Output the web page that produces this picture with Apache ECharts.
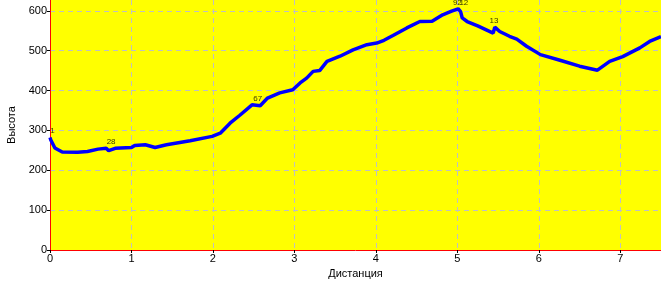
<!DOCTYPE html>
<html>
<head>
<meta charset="utf-8">
<script src="https://cdn.jsdelivr.net/npm/echarts@6/dist/echarts.min.js"></script>
<style>html,body{margin:0;padding:0;background:#fff;}#c{width:661px;height:281px;}</style>
</head>
<body>
<div id="c"></div>
<script>
var distances = [0, 0.01, 0.06, 0.15, 0.34, 0.46, 0.59, 0.69, 0.72, 0.8, 1.0, 1.04, 1.17, 1.29, 1.43, 1.72, 1.99, 2.09, 2.21, 2.33, 2.48, 2.58, 2.67, 2.82, 2.98, 3.07, 3.15, 3.23, 3.31, 3.40, 3.56, 3.72, 3.89, 4.01, 4.10, 4.21, 4.38, 4.54, 4.69, 4.82, 4.93, 5.01, 5.04, 5.06, 5.12, 5.25, 5.44, 5.46, 5.52, 5.64, 5.73, 5.85, 6.02, 6.26, 6.50, 6.72, 6.87, 7.03, 7.24, 7.36, 7.5];
var heights = [282, 276, 256, 246, 245, 247, 253, 255, 249, 255, 257, 262, 264, 257, 264, 274, 285, 293, 318, 338, 364, 362, 381, 394, 402, 419, 431, 448, 450, 473, 486, 502, 515, 519, 526, 538, 557, 573, 574, 590, 599, 605, 598, 582, 573, 562, 544, 559, 548, 536, 529, 511, 490, 476, 461, 451, 473, 485, 507, 523, 535];
var pointNames = ['1', '28', '67', '92', '12', '13'];
var pointDist = [0.03, 0.75, 2.55, 5.0, 5.08, 5.45];
var pointHeights = [284, 258, 366, 606, 606, 560];
var xTicks = [0, 1, 2, 3, 4, 5, 6, 7];
var yTicks = [0, 100, 200, 300, 400, 500, 600];

var lineData = distances.map(function (d, i) { return [d, heights[i]]; });
var markData = pointNames.map(function (n, i) { return { value: [pointDist[i], pointHeights[i]], name: n }; });

var chart = echarts.init(document.getElementById('c'), null, { renderer: 'canvas' });
var font = 'Liberation Sans, Arial, sans-serif';
chart.setOption({
  animation: false,
  backgroundColor: '#ffffff',
  grid: { left: 50, right: 0, top: 0, bottom: 31, show: true, backgroundColor: '#ffff00', borderWidth: 0, containLabel: false, outerBoundsMode: 'none' },
  xAxis: {
    type: 'value', min: 0, max: 7.5, interval: 1,
    name: 'Дистанция', nameLocation: 'middle', nameGap: 17,
    nameTextStyle: { color: '#000', fontSize: 11, fontFamily: font },
    axisLine: { show: true, onZero: false, lineStyle: { color: '#ff0000', width: 1 } },
    axisTick: { show: true, length: 3, lineStyle: { color: '#000' } },
    axisLabel: { color: '#000', fontSize: 11, fontFamily: font, margin: 3, showMaxLabel: false },
    splitLine: { show: true, showMaxLine: false, showMinLine: false, lineStyle: { color: '#c0c0c0', type: [5, 4], width: 1 } }
  },
  yAxis: {
    type: 'value', min: 0, max: 627, interval: 100,
    name: 'Высота', nameLocation: 'middle', nameGap: 33, nameRotate: 90,
    nameTextStyle: { color: '#000', fontSize: 11, fontFamily: font },
    axisLine: { show: true, onZero: false, lineStyle: { color: '#ff0000', width: 1 } },
    axisTick: { show: true, length: 3, lineStyle: { color: '#000' } },
    axisLabel: { color: '#000', fontSize: 11, fontFamily: font, margin: 3, showMaxLabel: false },
    splitLine: { show: true, showMaxLine: false, showMinLine: false, lineStyle: { color: '#c0c0c0', type: [5, 4], width: 1 } }
  },
  series: [
    {
      type: 'line', data: lineData, showSymbol: false, smooth: false,
      lineStyle: { color: '#0000ff', width: 3.5 }, z: 2
    },
    {
      type: 'scatter', data: markData, symbolSize: 1, clip: false, itemStyle: { color: 'rgba(0,0,0,0)' },
      label: { show: true, formatter: '{b}', position: 'top', distance: 1, color: '#000', fontSize: 8, fontFamily: font },
      z: 3
    }
  ]
});
</script>
</body>
</html>
